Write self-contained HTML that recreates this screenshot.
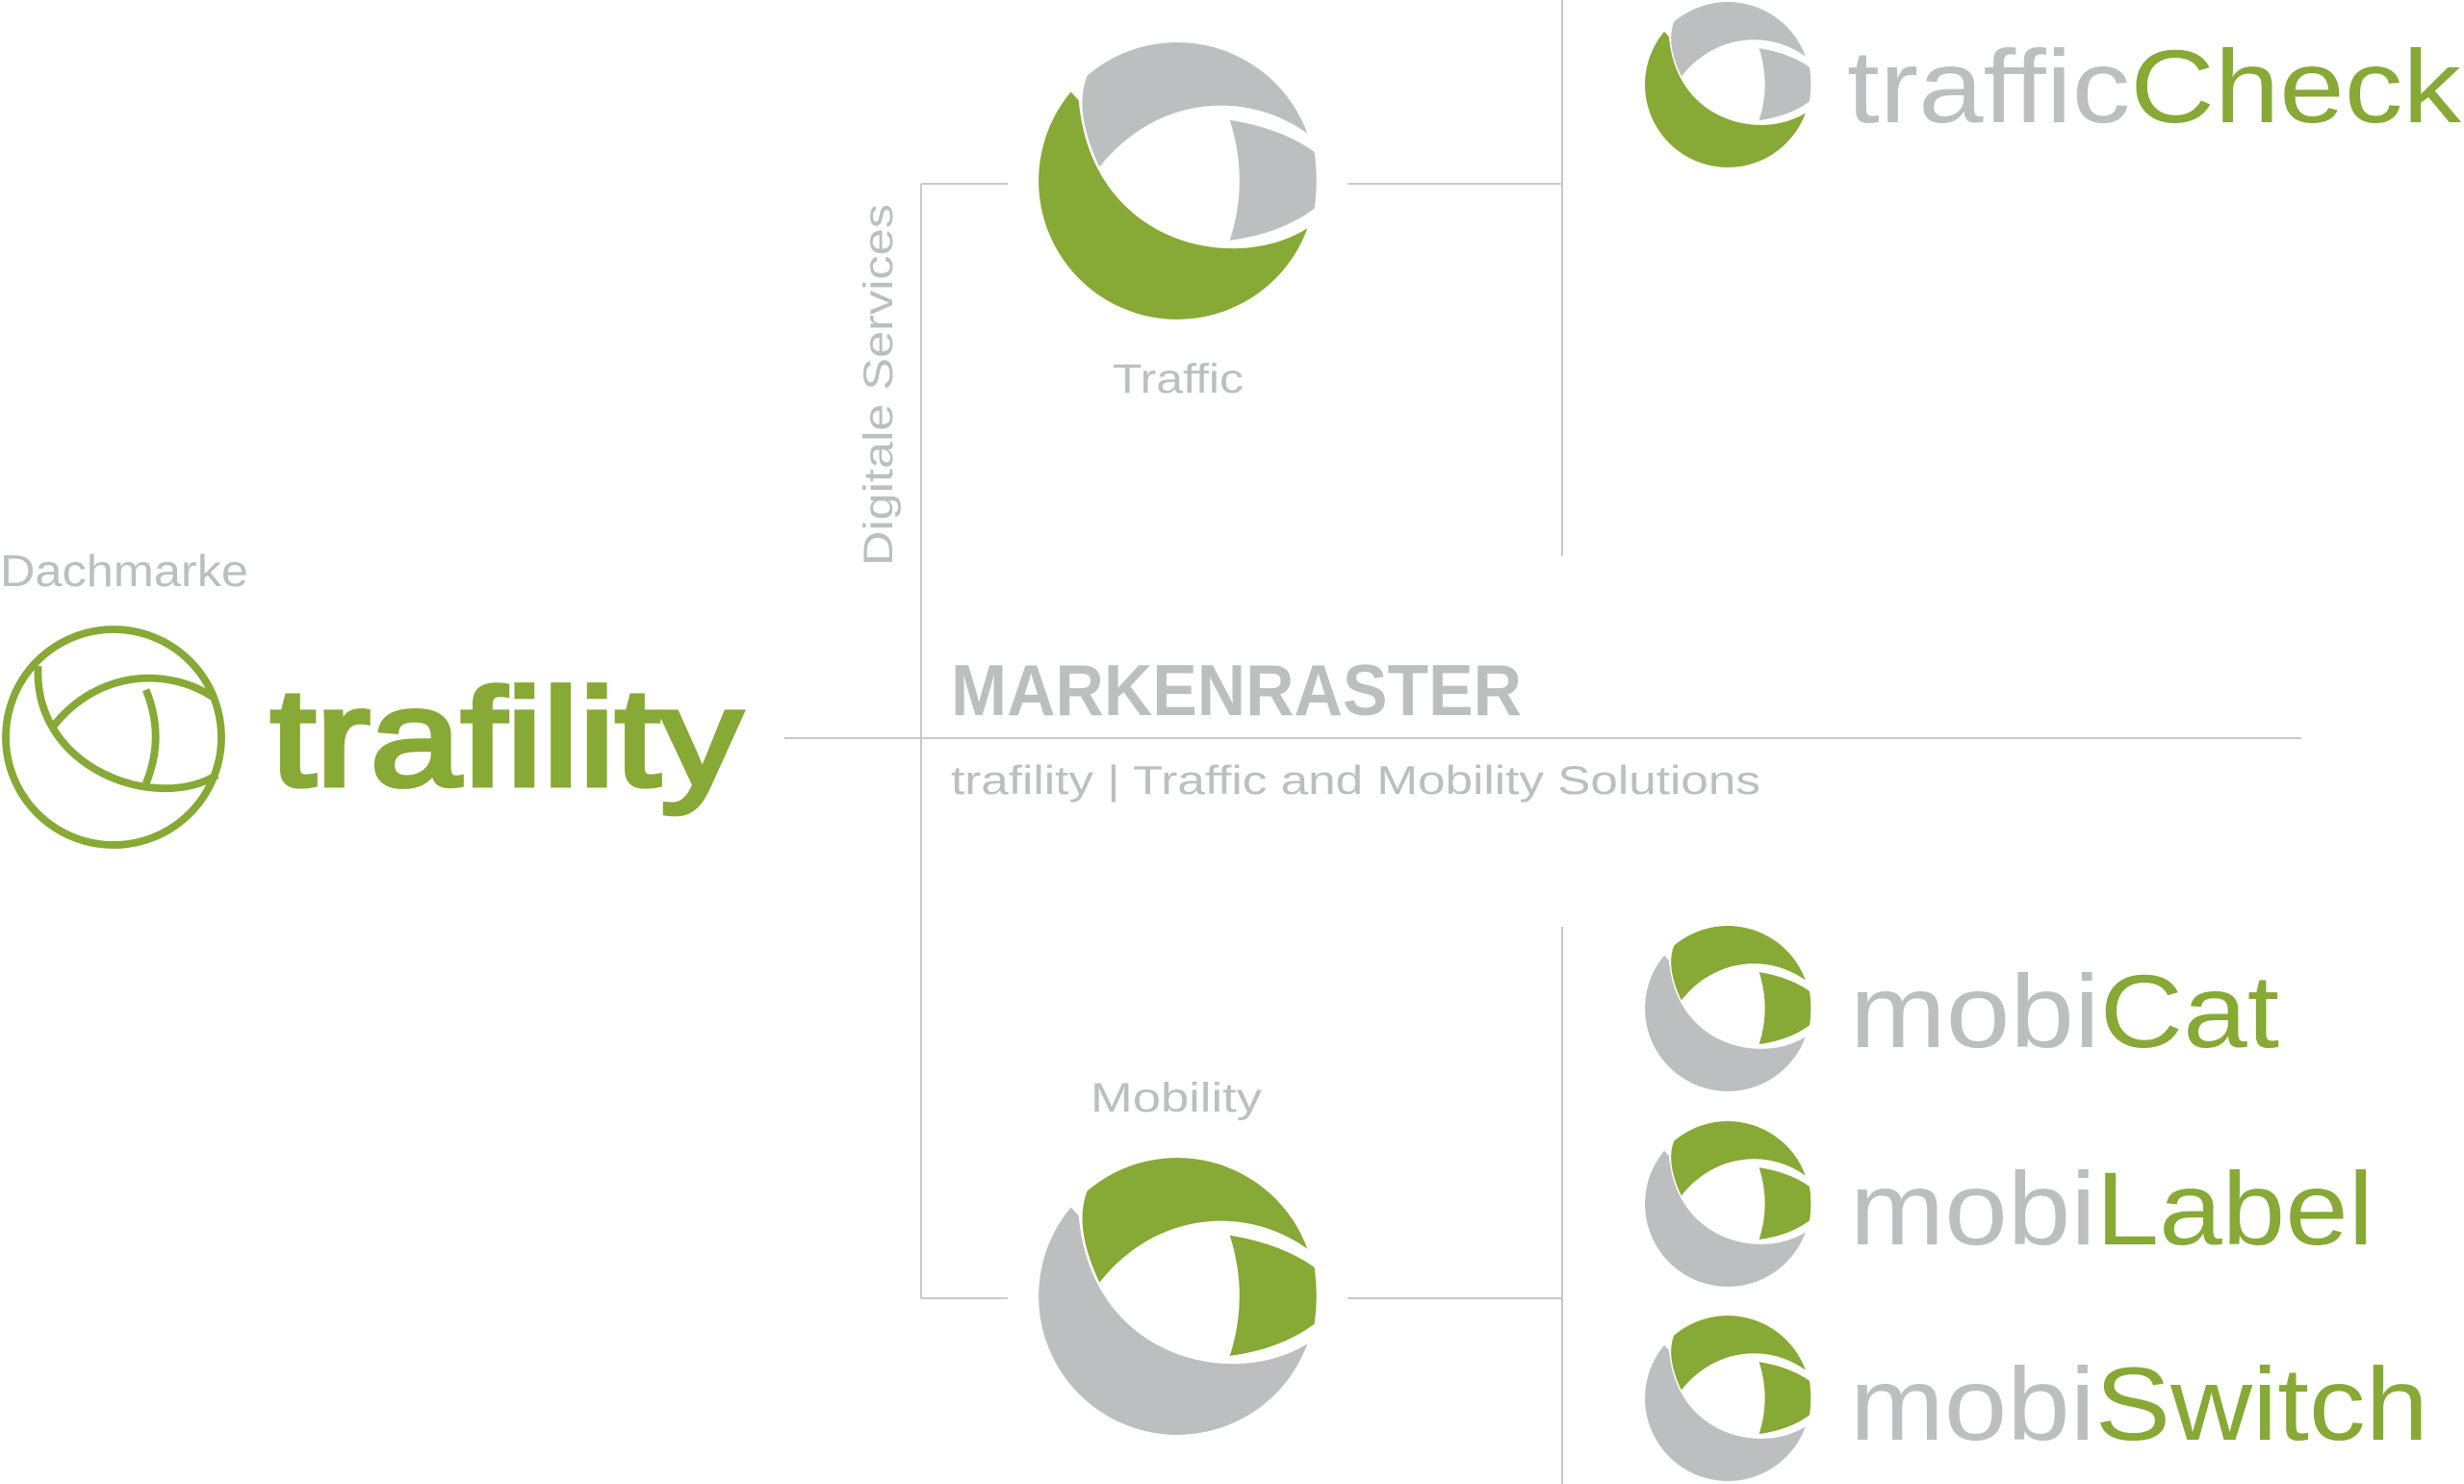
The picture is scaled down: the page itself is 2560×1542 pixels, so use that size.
<!DOCTYPE html>
<html><head><meta charset="utf-8"><style>
html,body{margin:0;padding:0;background:#fff;}
svg{display:block;}
text{font-family:"Liberation Sans",sans-serif;}
</style></head><body>
<svg width="2560" height="1542" viewBox="0 0 2560 1542" xmlns="http://www.w3.org/2000/svg">
<defs>
  <path id="cres" d="M -76.6 -64.3 A 100 100 0 1 0 94 34.2 C 40 68 -62 45 -71 -58 Z"/>
  <path id="topp" d="M -64.9 -76 A 100 100 0 0 1 94 -34.2 C 50 -66 -15 -62 -56 -10 Q -75 -50 -64.9 -76 Z"/>
  <path id="rightp" d="M 38 -44 Q 75 -38 99 -21 Q 102 0 99 20 Q 75 38 38 43 Q 52 0 38 -44 Z"/>
</defs>
<g stroke="#c8c9cb" stroke-width="2" fill="none">
  <line x1="815" y1="767" x2="2391" y2="767"/>
  <line x1="957" y1="191" x2="957" y2="1349"/>
  <line x1="957" y1="191" x2="1047" y2="191"/>
  <line x1="957" y1="1349" x2="1047" y2="1349"/>
  <line x1="1400" y1="191" x2="1623" y2="191"/>
  <line x1="1400" y1="1349" x2="1623" y2="1349"/>
  <line x1="1623" y1="0" x2="1623" y2="578"/>
  <line x1="1623" y1="963" x2="1623" y2="1542"/>
</g>
<g transform="translate(1223,188) scale(1.44)">
  <use href="#cres" fill="#87a935"/><use href="#topp" fill="#bcbec0"/><use href="#rightp" fill="#bcbec0"/>
</g>
<g transform="translate(1223,1347) scale(1.44)">
  <use href="#cres" fill="#bcbec0"/><use href="#topp" fill="#87a935"/><use href="#rightp" fill="#87a935"/>
</g>
<g transform="translate(1795,88) scale(0.86)">
  <use href="#cres" fill="#87a935"/><use href="#topp" fill="#bcbec0"/><use href="#rightp" fill="#bcbec0"/>
</g>
<g transform="translate(1795,1048) scale(0.86)">
  <use href="#cres" fill="#bcbec0"/><use href="#topp" fill="#87a935"/><use href="#rightp" fill="#87a935"/>
</g>
<g transform="translate(1795,1251) scale(0.86)">
  <use href="#cres" fill="#bcbec0"/><use href="#topp" fill="#87a935"/><use href="#rightp" fill="#87a935"/>
</g>
<g transform="translate(1795,1453) scale(0.86)">
  <use href="#cres" fill="#bcbec0"/><use href="#topp" fill="#87a935"/><use href="#rightp" fill="#87a935"/>
</g>
<g transform="translate(118,766) scale(1.12)" fill="none" stroke="#87a935" stroke-width="7">
  <circle r="100"/>
  <path d="M -70 -66 C -75 30 40 70 96 35"/>
  <path d="M 94 -36 C 50 -66 -15 -62 -56 -10"/>
  <path d="M 30 -44 Q 48 0 30 43"/>
</g>
<text x="281" y="816" font-size="144" fill="#87a935" stroke="#87a935" stroke-width="5" textLength="490" lengthAdjust="spacingAndGlyphs">trafility</text>
<text x="0" y="609" font-size="46" fill="#bcbec0" textLength="258" lengthAdjust="spacingAndGlyphs">Dachmarke</text>
<text x="988" y="743" font-size="75" font-weight="bold" fill="#bcbec0" textLength="593" lengthAdjust="spacingAndGlyphs">MARKENRASTER</text>
<text x="988" y="825" font-size="42" fill="#bcbec0" textLength="841" lengthAdjust="spacingAndGlyphs">trafility | Traffic and Mobility Solutions</text>
<text transform="translate(927,588) rotate(-90)" font-size="43" fill="#bcbec0" textLength="376" lengthAdjust="spacingAndGlyphs">Digitale Services</text>
<text x="1156" y="408" font-size="43" fill="#bcbec0" textLength="136" lengthAdjust="spacingAndGlyphs">Traffic</text>
<text x="1133" y="1155" font-size="43" fill="#bcbec0" textLength="178" lengthAdjust="spacingAndGlyphs">Mobility</text>
<g font-size="108">
  <text x="1919" y="127" textLength="638" lengthAdjust="spacingAndGlyphs"><tspan fill="#bcbec0">traffic</tspan><tspan fill="#87a935">Check</tspan></text>
  <text x="1922" y="1088" textLength="446" lengthAdjust="spacingAndGlyphs"><tspan fill="#bcbec0">mobi</tspan><tspan fill="#87a935">Cat</tspan></text>
  <text x="1922" y="1293" textLength="544" lengthAdjust="spacingAndGlyphs"><tspan fill="#bcbec0">mobi</tspan><tspan fill="#87a935">Label</tspan></text>
  <text x="1922" y="1496" textLength="601" lengthAdjust="spacingAndGlyphs"><tspan fill="#bcbec0">mobi</tspan><tspan fill="#87a935">Switch</tspan></text>
</g>
</svg>
</body></html>
